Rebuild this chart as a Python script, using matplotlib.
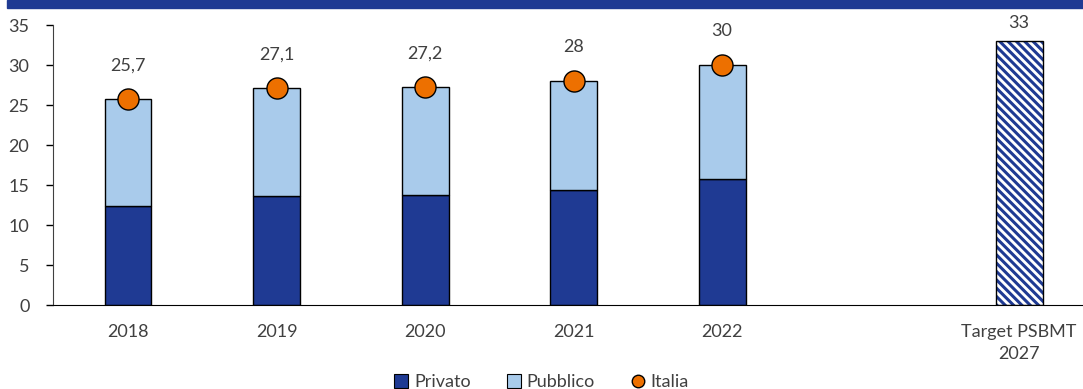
import matplotlib.pyplot as plt
from matplotlib.patches import Rectangle, Patch
from matplotlib.lines import Line2D

plt.rcParams['font.family'] = ['Lato', 'DejaVu Sans']
plt.rcParams['hatch.linewidth'] = 2.2

anni = ['2018', '2019', '2020', '2021', '2022']
privato = [12.4, 13.6, 13.8, 14.4, 15.8]
italia = [25.7, 27.1, 27.2, 28, 30]
pubblico = [t - p for t, p in zip(italia, privato)]
target_label = 'Target PSBMT\n2027'
target = 33

blu = '#1F3A93'
azzurro = '#A9CBEB'
arancio = '#ED7000'
grigio = '#404040'

fig = plt.figure(figsize=(10.83, 3.89), dpi=100)
# fascia blu in alto
fig.patches.append(Rectangle((7 / 1083, 1 - 8 / 389), 1, 8 / 389,
                             transform=fig.transFigure, color=blu, zorder=0))
ax = fig.add_axes([53 / 1083, 84 / 389, 1 - 53 / 1083, 280 / 389])

x = list(range(len(anni)))
w = 0.316
ax.bar(x, privato, w, color=blu, edgecolor='black', linewidth=1, zorder=2)
ax.bar(x, pubblico, w, bottom=privato, color=azzurro, edgecolor='black',
       linewidth=1, zorder=2)
ax.scatter(x, italia, s=230, color=arancio, edgecolor='black', linewidth=1,
           zorder=4)

xt = len(anni) + 1
ax.bar(xt, target, w, color='white', edgecolor=blu, hatch='\\\\\\\\',
       linewidth=0, zorder=2)
ax.bar(xt, target, w, fill=False, edgecolor='black', linewidth=1, zorder=3)

for xi, v in zip(x, italia):
    ax.annotate(f'{v:g}'.replace('.', ','), (xi, v), xytext=(0, 24.5),
                textcoords='offset points', ha='center', va='center',
                fontsize=13, color=grigio)
ax.annotate(f'{target:g}', (xt, target), xytext=(0, 13),
            textcoords='offset points', ha='center', va='center',
            fontsize=13, color=grigio)

ax.set_xlim(-0.505, 6.43)
ax.set_ylim(0, 35)
ax.set_yticks(range(0, 36, 5))
ax.set_xticks(x + [xt])
ax.set_xticklabels(anni + [target_label], linespacing=1.45)
ax.tick_params(axis='x', length=0, pad=14, labelsize=13, labelcolor=grigio)
ax.tick_params(axis='y', length=5, width=1, pad=12, labelsize=13,
               labelcolor=grigio)
for s in ['top', 'right']:
    ax.spines[s].set_visible(False)
ax.spines['left'].set_color(grigio)
ax.spines['bottom'].set_color('black')

handles = [Patch(facecolor=blu, edgecolor='black', linewidth=0.8),
           Patch(facecolor=azzurro, edgecolor='black', linewidth=0.8),
           Line2D([], [], marker='o', ls='', markersize=9,
                  markerfacecolor=arancio, markeredgecolor='black')]
fig.legend(handles, ['Privato', 'Pubblico', 'Italia'], loc='lower center',
           bbox_to_anchor=(0.5, -0.045), ncol=3, frameon=False, fontsize=13,
           handlelength=0.8, handleheight=0.8, handletextpad=0.3,
           columnspacing=2.0, labelcolor=grigio)

fig.savefig('out.png', dpi=100)
